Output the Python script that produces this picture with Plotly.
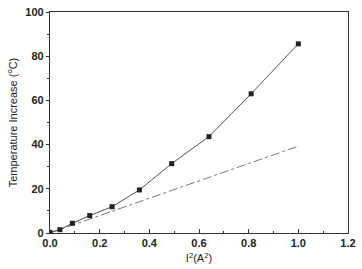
import plotly.graph_objects as go

i_sq = [0, 0.04, 0.09, 0.16, 0.25, 0.36, 0.49, 0.64, 0.81, 1.0]
temp_rise = [0.3, 1.5, 4.4, 7.9, 11.9, 19.5, 31.4, 43.6, 63.0, 85.6]
lin_x = [0, 1.0]
lin_y = [0, 39.3]

fig = go.Figure()
fig.add_trace(go.Scatter(x=lin_x, y=lin_y, mode="lines",
                         line=dict(color="#777777", width=1, dash="dashdot"),
                         showlegend=False))
fig.add_trace(go.Scatter(x=i_sq, y=temp_rise, mode="lines+markers",
                         line=dict(color="#555555", width=1),
                         marker=dict(symbol="square", size=5, color="#222222"),
                         showlegend=False))

fam = "Liberation Sans, Arial, sans-serif"
fig.update_layout(
    width=362, height=269,
    margin=dict(l=50, r=10, t=6, b=36),
    paper_bgcolor="white", plot_bgcolor="white",
    font=dict(family=fam, size=11, color="#222222"),
    xaxis=dict(range=[0, 1.2], dtick=0.2, tickformat=".1f",
               showgrid=False, zeroline=False,
               showline=True, linecolor="#333333", linewidth=1.2, mirror=True,
               ticks="inside", ticklen=4, tickcolor="#333333",
               minor=dict(dtick=0.1, ticks="inside", ticklen=2, tickcolor="#333333"),
               tickfont=dict(family=fam, size=11, color="#222222", weight="bold"),
               title=dict(text="I<sup>2</sup>(A<sup>2</sup>)", standoff=6,
                          font=dict(family=fam, size=11, color="#222222"))),
    yaxis=dict(range=[0, 100], dtick=20,
               showgrid=False, zeroline=False,
               showline=True, linecolor="#333333", linewidth=1.2, mirror=True,
               ticks="outside", ticklen=3, tickcolor="#333333",
               minor=dict(dtick=10, ticks="outside", ticklen=2, tickcolor="#333333"),
               tickfont=dict(family=fam, size=11, color="#222222", weight="bold"),
               title=dict(text="Temperature Increase (<sup>o</sup>C)", standoff=5,
                          font=dict(family=fam, size=11, color="#222222"))),
)
fig.write_html("out.html")
